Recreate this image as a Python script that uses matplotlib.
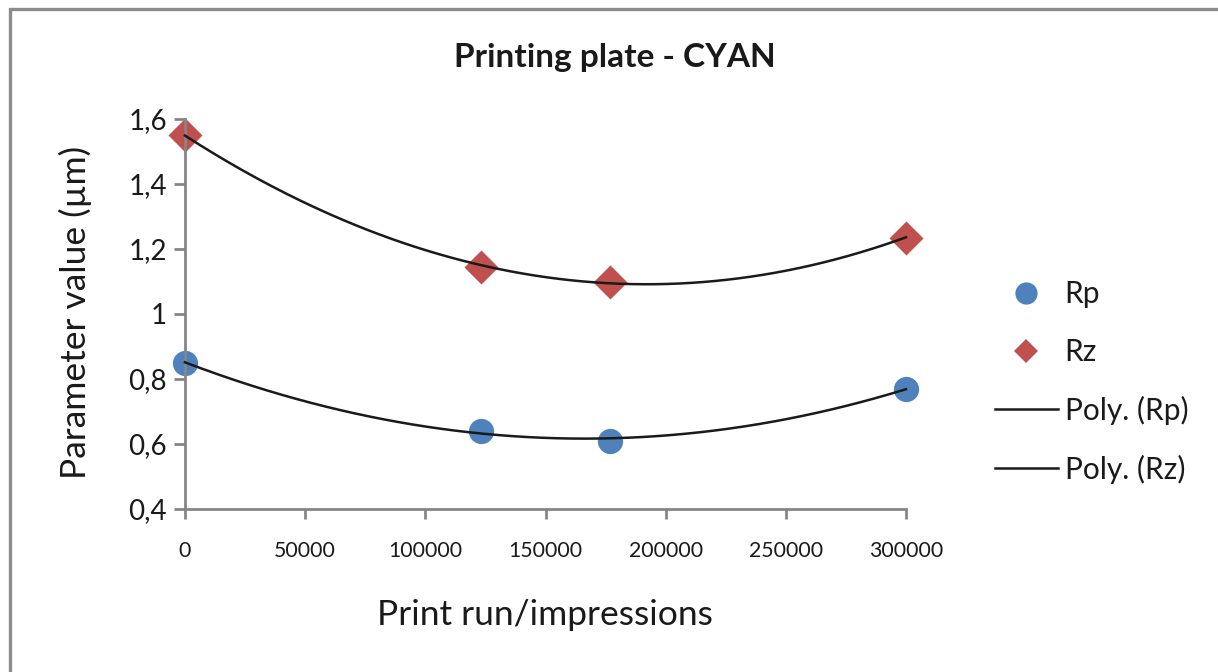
import numpy as np
import matplotlib
matplotlib.use("Agg")
import matplotlib.pyplot as plt
from matplotlib.lines import Line2D
from matplotlib.patches import Rectangle
from matplotlib.ticker import FuncFormatter, MultipleLocator

plt.rcParams['font.family'] = ['Lato', 'DejaVu Sans']

# Measurements of the cyan printing plate over the print run
impressions = [0, 123000, 177000, 300000]
rp_values = [0.85, 0.64, 0.61, 0.77]
rz_values = [1.55, 1.145, 1.10, 1.235]
series_names = ['Rp', 'Rz']
trend_names = ['Poly. (Rp)', 'Poly. (Rz)']

BLUE = '#4F81BD'
RED = '#C0504D'
AXIS_GRAY = '#868686'
TEXT = '#1a1a1a'

fig = plt.figure(figsize=(12.18, 6.72), dpi=100)
ax = fig.add_axes([185 / 1218, 1 - 509 / 672, (906 - 185) / 1218, (509 - 119) / 672])

x = np.array(impressions, dtype=float)
xs = np.linspace(0, 300000, 300)

ax.scatter(x, rp_values, s=330, marker='o', color=BLUE, zorder=2, linewidths=0, clip_on=False)
ax.scatter(x, rz_values, s=300, marker='D', color=RED, zorder=2, linewidths=0, clip_on=False)

# second-order polynomial trendlines
for vals in (rp_values, rz_values):
    coef = np.polyfit(x, vals, 2)
    ax.plot(xs, np.polyval(coef, xs), color=TEXT, lw=1.8, zorder=3, clip_on=False)


def comma_fmt(v, pos):
    if abs(v - round(v)) < 1e-9:
        return f'{int(round(v))}'
    return f'{v:.1f}'.replace('.', ',')


ax.set_xlim(0, 300000)
ax.set_ylim(0.4, 1.6)
ax.xaxis.set_major_locator(MultipleLocator(50000))
ax.yaxis.set_major_locator(MultipleLocator(0.2))
ax.yaxis.set_major_formatter(FuncFormatter(comma_fmt))
ax.xaxis.set_major_formatter(FuncFormatter(lambda v, p: f'{int(round(v))}'))

for side in ('top', 'right'):
    ax.spines[side].set_visible(False)
for side in ('left', 'bottom'):
    ax.spines[side].set_color(AXIS_GRAY)
    ax.spines[side].set_linewidth(2)

ax.tick_params(axis='y', direction='out', length=8, width=2, color=AXIS_GRAY,
               labelsize=20, labelcolor=TEXT, pad=5)
ax.tick_params(axis='x', direction='out', length=7, width=2, color=AXIS_GRAY,
               labelsize=15.3, labelcolor=TEXT, pad=16)

ax.set_xlabel('Print run/impressions', fontsize=25.5, color=TEXT, va='center')
ax.xaxis.set_label_coords((545 - 185) / 721, (509 - 615) / 390)
ax.set_ylabel('Parameter value (µm)', fontsize=25.5, color=TEXT, va='center')
ax.yaxis.set_label_coords((75 - 185) / 721, (509 - 312) / 390)

fig.text(615 / 1218, 1 - 58 / 672, 'Printing plate - CYAN', ha='center', va='center',
         fontsize=24, fontweight='bold', color=TEXT)

handles = [
    Line2D([], [], marker='o', ls='none', color=BLUE, markersize=16, markeredgewidth=0),
    Line2D([], [], marker='D', ls='none', color=RED, markersize=12, markeredgewidth=0),
    Line2D([], [], color=TEXT, lw=1.8),
    Line2D([], [], color=TEXT, lw=1.8),
]
fig.legend(handles, series_names + trend_names, loc='center left',
           bbox_to_anchor=(995 / 1218, 1 - 382 / 672), frameon=False,
           fontsize=21.5, handlelength=2.1, handletextpad=0.23, labelspacing=1.0,
           borderpad=0, borderaxespad=0, numpoints=1, labelcolor=TEXT)

# chart-area border (top and left edges fall inside the canvas)
fig.add_artist(Rectangle((9.5 / 1218, -0.1), 1.2, 1.1 - 9.5 / 672, transform=fig.transFigure,
                         fill=False, edgecolor='#8c8c8c', lw=2.4, clip_on=False))

fig.savefig('out.png', dpi=100)
